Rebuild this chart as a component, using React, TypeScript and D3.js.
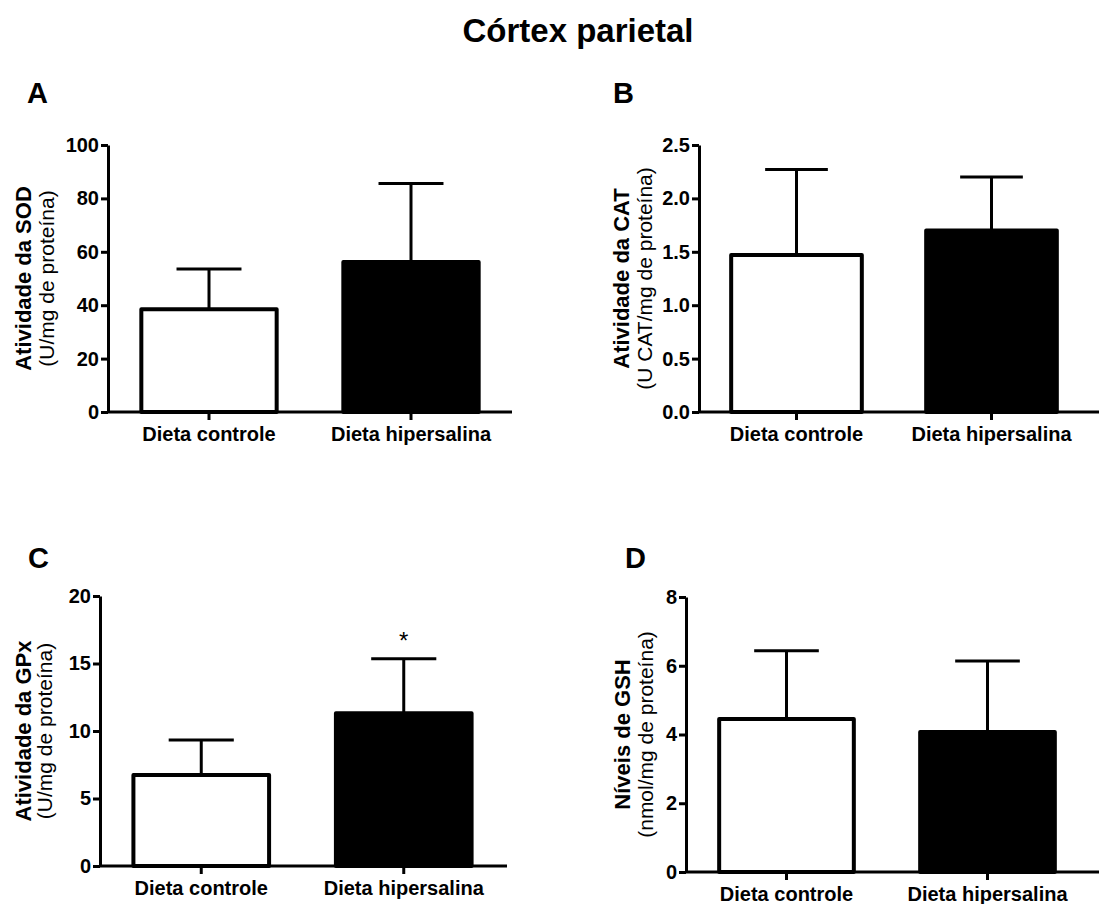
import React, { useEffect, useRef } from 'react';
import * as d3 from 'd3';

const width = 1099;
const height = 904;
const font = '"Liberation Sans", Arial, Helvetica, sans-serif';

// groups + bar colours
const groups = ['Dieta controle', 'Dieta hipersalina'];
const fills = ['white', 'black'];

// mean and SD
const sodMean = [38.5, 56.2];
const sodSd = [15.1, 29.4];
const catMean = [1.47, 1.7];
const catSd = [0.8, 0.5];
const gpxMean = [6.74, 11.31];
const gpxSd = [2.59, 4.05];
const gshMean = [4.45, 4.07];
const gshSd = [1.99, 2.07];

// significance marks
const sodMarks = ['', ''];
const catMarks = ['', ''];
const gpxMarks = ['', '*'];
const gshMarks = ['', ''];

// y tick values
const sodTicks = [0, 20, 40, 60, 80, 100];
const catTicks = [0, 0.5, 1.0, 1.5, 2.0, 2.5];
const gpxTicks = [0, 5, 10, 15, 20];
const gshTicks = [0, 2, 4, 6, 8];

type PanelSpec = {
  letter: string;
  letterX: number;
  letterY: number;
  left: number;
  right: number;
  lineEnd: number;
  top: number;
  bottom: number;
  ticks: number[];
  fmt: string;
  means: number[];
  sds: number[];
  marks: string[];
  title: string;
  unit: string;
  titleX: number;
  unitX: number;
};

const panels: PanelSpec[] = [
  {
    letter: 'A', letterX: 27, letterY: 103,
    left: 108, right: 512, lineEnd: 512, top: 145, bottom: 412,
    ticks: sodTicks, fmt: 'd', means: sodMean, sds: sodSd, marks: sodMarks,
    title: 'Atividade da SOD', unit: '(U/mg de proteína)', titleX: 31, unitX: 54,
  },
  {
    letter: 'B', letterX: 613, letterY: 103,
    left: 699, right: 1089, lineEnd: 1099, top: 145, bottom: 412,
    ticks: catTicks, fmt: '.1f', means: catMean, sds: catSd, marks: catMarks,
    title: 'Atividade da CAT', unit: '(U CAT/mg de proteína)', titleX: 629, unitX: 652,
  },
  {
    letter: 'C', letterX: 28, letterY: 568,
    left: 100, right: 505, lineEnd: 507, top: 596, bottom: 866,
    ticks: gpxTicks, fmt: 'd', means: gpxMean, sds: gpxSd, marks: gpxMarks,
    title: 'Atividade da GPx', unit: '(U/mg de proteína)', titleX: 31, unitX: 52,
  },
  {
    letter: 'D', letterX: 625, letterY: 568,
    left: 686, right: 1088, lineEnd: 1099, top: 597, bottom: 872,
    ticks: gshTicks, fmt: 'd', means: gshMean, sds: gshSd, marks: gshMarks,
    title: 'Níveis de GSH', unit: '(nmol/mg de proteína)', titleX: 630, unitX: 653,
  },
];

function Panel({ p }: { p: PanelSpec }) {
  const yRef = useRef<SVGGElement>(null);
  const xRef = useRef<SVGGElement>(null);

  const x = d3.scaleBand<string>()
    .domain(groups)
    .range([p.left, p.right])
    .paddingInner(0.33)
    .paddingOuter(0.165);
  const y = d3.scaleLinear()
    .domain([0, p.ticks[p.ticks.length - 1]])
    .range([p.bottom, p.top]);

  useEffect(() => {
    const gy = d3.select(yRef.current!);
    gy.call(
      d3.axisLeft(y)
        .tickValues(p.ticks)
        .tickFormat(d3.format(p.fmt) as any)
        .tickSize(7)
        .tickSizeOuter(0)
        .tickPadding(2)
    );
    gy.select('.domain').attr('stroke-width', 3);
    gy.selectAll('.tick line').attr('stroke-width', 3);
    gy.selectAll('.tick text')
      .attr('font-family', font)
      .attr('font-size', 20)
      .attr('font-weight', 'bold')
      .attr('fill', 'black');

    const gx = d3.select(xRef.current!);
    gx.call(d3.axisBottom(x).tickSize(8).tickSizeOuter(0).tickPadding(7));
    gx.select('.domain').remove();
    gx.selectAll('.tick line').attr('stroke-width', 3);
    gx.selectAll('.tick text')
      .attr('font-family', font)
      .attr('font-size', 20)
      .attr('font-weight', 'bold')
      .attr('fill', 'black');
  }, []);

  const bw = x.bandwidth();
  const capW = bw * 0.48;
  const midY = (p.top + p.bottom) / 2;

  return (
    <g>
      <text x={p.letterX} y={p.letterY} fontFamily={font} fontSize={29} fontWeight="bold">
        {p.letter}
      </text>
      <g transform={`translate(${p.titleX},${midY}) rotate(-90)`}>
        <text textAnchor="middle" fontFamily={font} fontSize={22} fontWeight="bold">{p.title}</text>
      </g>
      <g transform={`translate(${p.unitX},${midY}) rotate(-90)`}>
        <text textAnchor="middle" fontFamily={font} fontSize={21}>{p.unit}</text>
      </g>

      {groups.map((g, i) => {
        const cx = x(g)! + bw / 2;
        const yTop = y(p.means[i]);
        const yErr = y(p.means[i] + p.sds[i]);
        return (
          <g key={g}>
            <line x1={cx} x2={cx} y1={yTop} y2={yErr} stroke="black" strokeWidth={3} />
            <line x1={cx - capW / 2} x2={cx + capW / 2} y1={yErr} y2={yErr} stroke="black" strokeWidth={3} />
            <rect
              x={x(g)}
              y={yTop}
              width={bw}
              height={p.bottom - yTop}
              fill={fills[i]}
              stroke="black"
              strokeWidth={4}
              strokeLinejoin="round"
            />
            {p.marks[i] && (
              <text x={cx} y={yErr - 10} textAnchor="middle" fontFamily={font} fontSize={24}>
                {p.marks[i]}
              </text>
            )}
          </g>
        );
      })}

      <line x1={p.left} x2={p.lineEnd} y1={p.bottom} y2={p.bottom} stroke="black" strokeWidth={3} />
      <g ref={xRef} transform={`translate(0,${p.bottom})`} />
      <g ref={yRef} transform={`translate(${p.left},0)`} />
    </g>
  );
}

export default function App() {
  return (
    <svg
      width={width}
      height={height}
      style={{ position: 'absolute', left: 0, top: 0, background: 'white', display: 'block' }}
    >
      <rect width={width} height={height} fill="white" />
      <text x={578} y={42} textAnchor="middle" fontFamily={font} fontSize={33} fontWeight="bold">
        Córtex parietal
      </text>
      {panels.map((p) => (
        <Panel key={p.letter} p={p} />
      ))}
    </svg>
  );
}
